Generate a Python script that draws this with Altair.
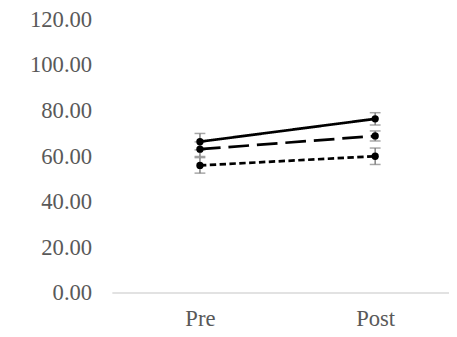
import altair as alt
import pandas as pd

phases = ["Pre", "Post"]
series = ["Solid", "Dashed", "Dotted"]
solid_vals = [66.4, 76.4]
dashed_vals = [63.1, 68.9]
dotted_vals = [56.0, 60.0]
solid_err = [3.6, 2.7]
dashed_err = [3.2, 2.2]
dotted_err = [3.4, 3.6]
y_ticks = [0, 20, 40, 60, 80, 100, 120]

rows = []
for name, vals, errs in [("Solid", solid_vals, solid_err),
                         ("Dashed", dashed_vals, dashed_err),
                         ("Dotted", dotted_vals, dotted_err)]:
    for p, v, e in zip(phases, vals, errs):
        rows.append({"phase": p, "series": name, "value": v,
                     "low": v - e, "high": v + e})
df = pd.DataFrame(rows)

FONT = "Liberation Serif"
TXT = "#595959"

x_enc = alt.X("phase:N", sort=phases,
              scale=alt.Scale(type="point", domain=phases, range=[89, 267], padding=0),
              axis=alt.Axis(title=None, domain=False, ticks=False, labelAngle=0,
                            labelFont=FONT, labelFontSize=23, labelColor=TXT,
                            labelPadding=15, grid=False))
y_scale = alt.Scale(domain=[0, 120], nice=False, zero=True)

base = alt.Chart(df)

baseline = alt.Chart(pd.DataFrame({"v": [0]})).mark_rule(color="#d9d9d9", strokeWidth=1.5).encode(
    y=alt.Y("v:Q", scale=y_scale,
            axis=alt.Axis(title=None, values=y_ticks, format=".2f", domain=False,
                          ticks=False, grid=False, labelFont=FONT, labelFontSize=23,
                          labelColor=TXT, labelPadding=21))
)

lines = base.mark_line(color="black", strokeWidth=2.75).encode(
    x=x_enc,
    y=alt.Y("value:Q", scale=y_scale),
    detail="series:N",
    strokeDash=alt.StrokeDash("series:N",
                              scale=alt.Scale(domain=series, range=[[1, 0], [21, 8], [6.5, 3.5]]),
                              legend=None),
)

err_rule = base.mark_rule(color="#808080", strokeWidth=1.5).encode(
    x=x_enc, y=alt.Y("low:Q", scale=y_scale), y2="high:Q")
cap_lo = base.mark_tick(color="#808080", thickness=1.5, size=11, orient="horizontal").encode(
    x=x_enc, y=alt.Y("low:Q", scale=y_scale))
cap_hi = base.mark_tick(color="#808080", thickness=1.5, size=11, orient="horizontal").encode(
    x=x_enc, y=alt.Y("high:Q", scale=y_scale))

points = base.mark_point(filled=True, color="black", size=55, opacity=1, shape="circle").encode(
    x=x_enc, y=alt.Y("value:Q", scale=y_scale))

chart = alt.layer(baseline, err_rule, cap_lo, cap_hi, lines, points).properties(
    width=342, height=278,
    autosize=alt.AutoSizeParams(type="none"),
    padding={"left": 106, "top": 9, "right": 0, "bottom": 42},
).configure_view(stroke=None)

chart.save("out.html", embed_options={"renderer": "svg", "actions": False})
